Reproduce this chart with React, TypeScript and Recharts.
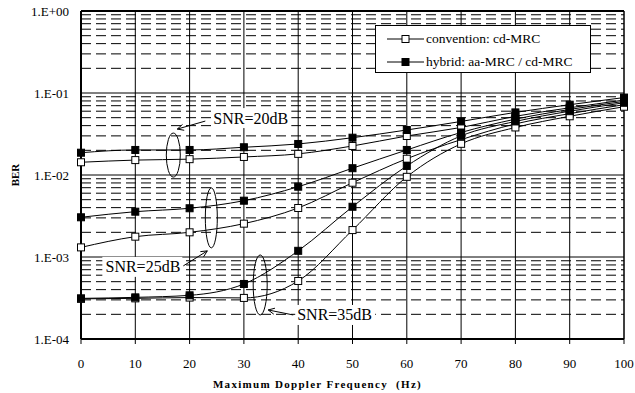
import {
  LineChart,
  Line,
  XAxis,
  YAxis,
  CartesianGrid,
  ReferenceLine,
  ReferenceDot,
} from "recharts";

const doppler = [0, 10, 20, 30, 40, 50, 60, 70, 80, 90, 100];

const snr20Conv = [0.0143, 0.0152, 0.0156, 0.0166, 0.0181, 0.0226, 0.0299, 0.038, 0.052, 0.066, 0.082];
const snr20Hyb = [0.0187, 0.0202, 0.0202, 0.0218, 0.0239, 0.0285, 0.0354, 0.045, 0.058, 0.072, 0.088];
const snr25Conv = [0.00131, 0.00177, 0.002, 0.00255, 0.00396, 0.00805, 0.0158, 0.027, 0.042, 0.056, 0.072];
const snr25Hyb = [0.00305, 0.00357, 0.00393, 0.00486, 0.0072, 0.0121, 0.0202, 0.033, 0.048, 0.063, 0.079];
const snr35Conv = [0.000309, 0.000313, 0.00032, 0.000317, 0.00051, 0.00213, 0.0095, 0.024, 0.038, 0.052, 0.068];
const snr35Hyb = [0.000313, 0.000322, 0.000341, 0.000469, 0.00119, 0.0041, 0.0129, 0.03, 0.045, 0.06, 0.076];

const yTicks = [0.0001, 0.001, 0.01, 0.1, 1];
const yTickLabels = ["1.E-04", "1.E-03", "1.E-02", "1.E-01", "1.E+00"];
const minorSteps = [2, 3, 4, 5, 6, 7, 8, 9];
const decades = [0.0001, 0.001, 0.01, 0.1];

const legendLabels = ["convention: cd-MRC", "hybrid: aa-MRC / cd-MRC"];

// annotation anchors (ellipse centres, in data units)
const notes = [
  { label: "SNR=20dB", x: 17, y: 0.0175, rx: 7, ry: 22 },
  { label: "SNR=25dB", x: 24, y: 0.003, rx: 6, ry: 30 },
  { label: "SNR=35dB", x: 33, y: 0.000456, rx: 7, ry: 30 },
];

const data = doppler.map((f, i) => ({
  f,
  c20: snr20Conv[i],
  h20: snr20Hyb[i],
  c25: snr25Conv[i],
  h25: snr25Hyb[i],
  c35: snr35Conv[i],
  h35: snr35Hyb[i],
}));

const minorLines = decades.flatMap((d) => minorSteps.map((m) => d * m));

const FONT = "'Liberation Serif', 'Times New Roman', serif";

const openSquare = (p: any) => (
  <rect key={`o-${p.dataKey}-${p.index}`} x={p.cx - 3.5} y={p.cy - 3.5} width={7} height={7} fill="#fff" stroke="#000" strokeWidth={1} />
);
const filledSquare = (p: any) => (
  <rect key={`f-${p.dataKey}-${p.index}`} x={p.cx - 3.5} y={p.cy - 3.5} width={7} height={7} fill="#000" stroke="#000" strokeWidth={1} />
);

const arrow = (x1: number, y1: number, x2: number, y2: number) => {
  const a = Math.atan2(y2 - y1, x2 - x1);
  const len = 7;
  const s = 0.45;
  return (
    <g stroke="#000" strokeWidth={1} fill="none">
      <line x1={x1} y1={y1} x2={x2} y2={y2} />
      <line x1={x2} y1={y2} x2={x2 - len * Math.cos(a - s)} y2={y2 - len * Math.sin(a - s)} />
      <line x1={x2} y1={y2} x2={x2 - len * Math.cos(a + s)} y2={y2 - len * Math.sin(a + s)} />
    </g>
  );
};

// offsets of arrow + text relative to the ellipse centre
const layouts = [
  { a: [32, -34, 4, -26], tx: 40, ty: -37, anchor: "start" },
  { a: [-28, 48, -4, 33], tx: -31, ty: 49, anchor: "end" },
  { a: [33, 30, 8, 25], tx: 37, ty: 30, anchor: "start" },
];

const noteShape = (i: number) => (p: any) => {
  const n = notes[i];
  const l = layouts[i];
  const cx = p.cx;
  const cy = p.cy;
  const w = 76;
  const tx = cx + l.tx;
  const ty = cy + l.ty;
  const rectX = l.anchor === "end" ? tx - w - 2 : tx - 2;
  return (
    <g>
      <ellipse cx={cx} cy={cy} rx={n.rx} ry={n.ry} fill="none" stroke="#000" strokeWidth={1} />
      <rect x={rectX} y={ty - 10} width={w + 4} height={20} fill="#fff" />
      <text x={tx} y={ty} textAnchor={l.anchor as any} dominantBaseline="central" fontSize={16} fontFamily={FONT} fill="#000">
        {n.label}
      </text>
      {arrow(cx + l.a[0], cy + l.a[1], cx + l.a[2], cy + l.a[3])}
    </g>
  );
};

const Legend = () => (
  <div
    style={{
      position: "absolute",
      left: 375,
      top: 25,
      width: 214,
      height: 46,
      border: "1px solid #000",
      background: "#fff",
      fontFamily: FONT,
      fontSize: 13.5,
    }}
  >
    {legendLabels.map((label, i) => (
      <div key={label} style={{ position: "absolute", left: 11, top: 4 + i * 23.5, height: 17, display: "flex", alignItems: "center" }}>
        <svg width={38} height={10}>
          <line x1={0} y1={5} x2={37} y2={5} stroke="#000" />
          <rect x={15} y={1.5} width={7} height={7} fill={i === 0 ? "#fff" : "#000"} stroke="#000" />
        </svg>
        <span style={{ marginLeft: 1 }}>{label}</span>
      </div>
    ))}
  </div>
);

export default function App() {
  return (
    <div style={{ position: "relative", width: 635, height: 393, background: "#fff" }}>
      <style>{`body{margin:0}`}</style>
      <LineChart width={635} height={393} data={data} margin={{ top: 11, right: 11, left: 10, bottom: 0 }}>
        <CartesianGrid stroke="#000" strokeWidth={1} />
        {minorLines.map((v) => (
          <ReferenceLine key={v} y={v} stroke="#000" strokeWidth={1} strokeDasharray="10 5" />
        ))}
        <ReferenceLine y={1} stroke="#000" strokeWidth={2} />
        <ReferenceLine x={100} stroke="#000" strokeWidth={1} />
        <XAxis
          dataKey="f"
          type="number"
          domain={[0, 100]}
          ticks={doppler}
          height={54}
          axisLine={{ stroke: "#000", strokeWidth: 2 }}
          tickLine={{ stroke: "#000" }}
          tickSize={5}
          tickMargin={15}
          tick={{ fill: "#000", fontSize: 13, fontFamily: FONT }}
          label={(props: any) => {
            const vb = props.viewBox;
            return (
              <text
                x={vb.x + vb.width / 2 - 35}
                y={384}
                textAnchor="middle"
                dominantBaseline="central"
                fontSize={11}
                fontWeight="bold"
                letterSpacing={1.3}
                fontFamily={FONT}
                fill="#000"
              >
                {"Maximum Doppler Frequency\u00a0 (Hz)"}
              </text>
            );
          }}
        />
        <YAxis
          type="number"
          scale="log"
          domain={[0.0001, 1]}
          allowDataOverflow
          ticks={yTicks}
          width={71}
          axisLine={{ stroke: "#000", strokeWidth: 2 }}
          tickLine={false}
          tickSize={0}
          tickMargin={12}
          tick={{ fill: "#000", fontSize: 13, fontFamily: FONT }}
          tickFormatter={(v: number) => yTickLabels[yTicks.indexOf(v)] ?? ""}
          label={(props: any) => {
            const vb = props.viewBox;
            return (
              <text
                x={15}
                y={vb.y + vb.height / 2}
                transform={`rotate(-90, 15, ${vb.y + vb.height / 2})`}
                textAnchor="middle"
                dominantBaseline="central"
                fontSize={11}
                fontWeight="bold"
                fontFamily={FONT}
                fill="#000"
              >
                BER
              </text>
            );
          }}
        />
        <Line type="monotone" dataKey="c20" stroke="#000" strokeWidth={1} dot={openSquare} isAnimationActive={false} />
        <Line type="monotone" dataKey="h20" stroke="#000" strokeWidth={1} dot={filledSquare} isAnimationActive={false} />
        <Line type="monotone" dataKey="c25" stroke="#000" strokeWidth={1} dot={openSquare} isAnimationActive={false} />
        <Line type="monotone" dataKey="h25" stroke="#000" strokeWidth={1} dot={filledSquare} isAnimationActive={false} />
        <Line type="monotone" dataKey="c35" stroke="#000" strokeWidth={1} dot={openSquare} isAnimationActive={false} />
        <Line type="monotone" dataKey="h35" stroke="#000" strokeWidth={1} dot={filledSquare} isAnimationActive={false} />
        {notes.map((n, i) => (
          <ReferenceDot key={n.label} x={n.x} y={n.y} r={0} ifOverflow="visible" shape={noteShape(i)} />
        ))}
      </LineChart>
      <Legend />
    </div>
  );
}
